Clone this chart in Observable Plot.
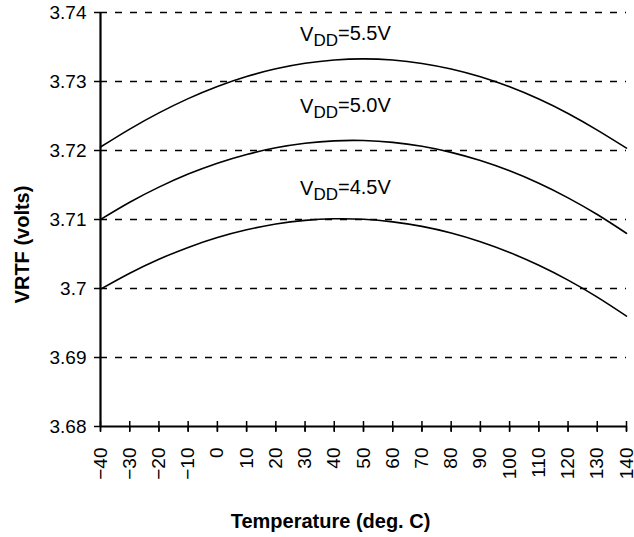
<!DOCTYPE html>
<html>
<head>
<meta charset="utf-8">
<script src="https://cdn.jsdelivr.net/npm/d3@7"></script>
<script src="https://cdn.jsdelivr.net/npm/@observablehq/plot@0.6"></script>
<style>
  html, body { margin: 0; padding: 0; background: #fff; }
  #chart svg { display: block; overflow: visible; }
</style>
</head>
<body>
<div id="chart"></div>
<script>
// ---- data ----
const temps = [-40, -30, -20, -10, 0, 10, 20, 30, 40, 50, 60, 70, 80, 90, 100, 110, 120, 130, 140];
const vdd45 = [3.69990, 3.70222, 3.70424, 3.70596, 3.70739, 3.70851, 3.70934, 3.70987, 3.71010, 3.71003, 3.70966, 3.70900, 3.70804, 3.70678, 3.70522, 3.70336, 3.70121, 3.69875, 3.69600];
const vdd50 = [3.71000, 3.71250, 3.71469, 3.71658, 3.71816, 3.71943, 3.72039, 3.72105, 3.72140, 3.72144, 3.72118, 3.72061, 3.71973, 3.71854, 3.71705, 3.71525, 3.71314, 3.71072, 3.70800];
const vdd55 = [3.72050, 3.72310, 3.72545, 3.72752, 3.72928, 3.73072, 3.73184, 3.73264, 3.73312, 3.73328, 3.73311, 3.73262, 3.73181, 3.73068, 3.72923, 3.72746, 3.72537, 3.72296, 3.72035];
const seriesNames = ["VDD=4.5V", "VDD=5.0V", "VDD=5.5V"];
const labelTemp = [28.3, 28.3, 28.3];
const labelVolt = [3.7136, 3.7254, 3.7359];
const xTicks = [-40, -30, -20, -10, 0, 10, 20, 30, 40, 50, 60, 70, 80, 90, 100, 110, 120, 130, 140];
const yTicks = [3.68, 3.69, 3.70, 3.71, 3.72, 3.73, 3.74];
const yTickLabels = ["3.68", "3.69", "3.7", "3.71", "3.72", "3.73", "3.74"];
const gridLines = [3.69, 3.70, 3.71, 3.72, 3.73, 3.74];
const xTitle = "Temperature (deg. C)";
const yTitle = "VRTF (volts)";

const series = [vdd45, vdd50, vdd55];
const rows = [];
series.forEach((vals, s) => temps.forEach((t, i) => rows.push({t, v: vals[i], s: seriesNames[s]})));
const labels = seriesNames.map((name, i) => ({name, t: labelTemp[i], v: labelVolt[i]}));

const yMin = yTicks[0], xMin = xTicks[0];

const chart = Plot.plot({
  width: 634,
  height: 537,
  marginTop: 12,
  marginBottom: 111,
  marginLeft: 100,
  marginRight: 8,
  style: {fontFamily: "'Liberation Sans', Arial, sans-serif", fontSize: "19px", color: "black", background: "white", overflow: "visible"},
  x: {domain: [xTicks[0], xTicks[xTicks.length - 1]]},
  y: {domain: [yTicks[0], yTicks[yTicks.length - 1]]},
  marks: [
    Plot.ruleY(gridLines, {stroke: "black", strokeWidth: 1.5, strokeDasharray: "7,8"}),
    Plot.line(rows, {x: "t", y: "v", z: "s", stroke: "black", strokeWidth: 1.6, curve: "natural"}),
    Plot.axisY({ticks: yTicks, tickFormat: d => yTickLabels[yTicks.indexOf(d)], tickSize: 6, tickPadding: 8, label: null, stroke: "black", strokeWidth: 1.5, fontSize: 19}),
    Plot.axisX({ticks: xTicks, tickFormat: d => d < 0 ? "\u2212" + Math.abs(d) : String(d), tickRotate: -90, tickSize: 6, tickPadding: 15, label: null, stroke: "black", strokeWidth: 1.5, fontSize: 19}),
    Plot.ruleX(xTicks, {x: d => d, y1: yMin, y2: yMin, insetTop: -5, insetBottom: -5, stroke: "black", strokeWidth: 1.5}),
    Plot.ruleY([yMin], {stroke: "black", strokeWidth: 2}),
    Plot.ruleX([xMin], {stroke: "black", strokeWidth: 2.2}),
    Plot.text(labels, {x: "t", y: "v", text: "name", textAnchor: "start", lineAnchor: "bottom", fontSize: 20, fill: "black"}),
    Plot.text([yTitle], {frameAnchor: "left", textAnchor: "middle", lineAnchor: "middle", dx: -78, dy: 25, rotate: -90, fontSize: 20, fontWeight: "bold", fill: "black"}),
    Plot.text([xTitle], {frameAnchor: "bottom", textAnchor: "middle", lineAnchor: "bottom", dx: -33, dy: 101, fontSize: 20, fontWeight: "bold", fill: "black"})
  ]
});

// subscript "DD" in the annotation labels
d3.select(chart).selectAll("text").filter(function() {
  return seriesNames.includes(this.textContent);
}).each(function() {
  const txt = this.textContent;
  const sel = d3.select(this);
  sel.text(null);
  sel.append("tspan").text(txt.slice(0, 1));
  sel.append("tspan").attr("font-size", "17px").attr("dy", "0.3em").text(txt.slice(1, 3));
  sel.append("tspan").attr("dy", "-0.3em").text(txt.slice(3));
});

document.getElementById("chart").append(chart);
</script>
</body>
</html>
